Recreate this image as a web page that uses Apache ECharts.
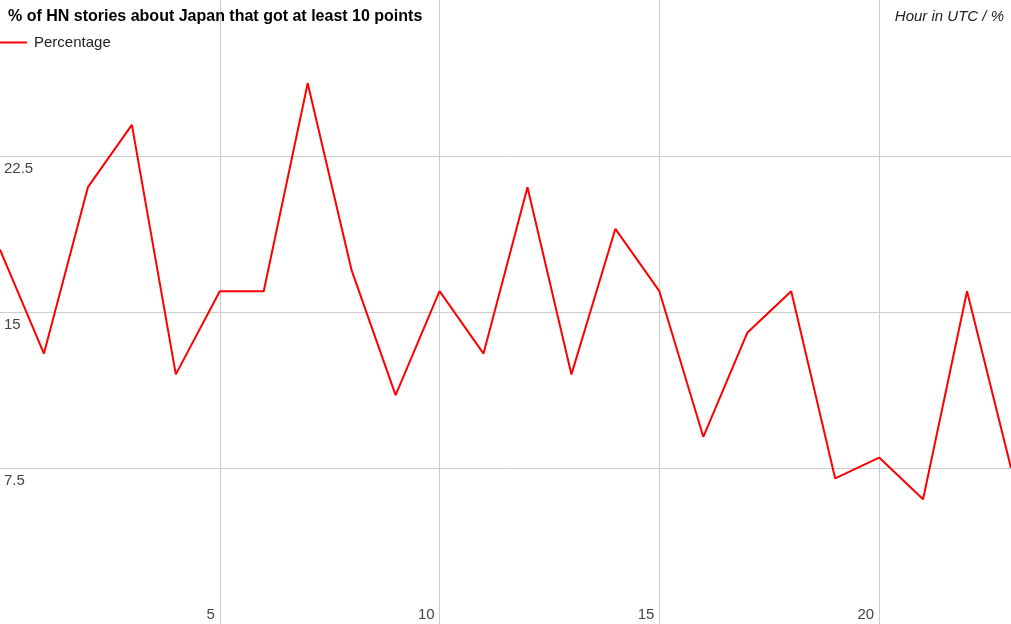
<!DOCTYPE html>
<html>
<head>
<meta charset="utf-8">
<script src="https://cdn.jsdelivr.net/npm/echarts@6/dist/echarts.min.js"></script>
<style>html,body{margin:0;padding:0;background:#fff}#c{width:1011px;height:624px}</style>
</head>
<body>
<div id="c"></div>
<script>
const hours = [0,1,2,3,4,5,6,7,8,9,10,11,12,13,14,15,16,17,18,19,20,21,22,23];
const percentage = [18,13,21,24,12,16,16,26,17,11,16,13,21,12,19,16,9,14,16,7,8,6,16,7.5];
const titleText = '% of HN stories about Japan that got at least 10 points';
const axisTitle = 'Hour in UTC / %';
const seriesName = 'Percentage';

const font = 'Arial, "Liberation Sans", sans-serif';
const chart = echarts.init(document.getElementById('c'));
chart.setOption({
  animation: false,
  textStyle: {fontFamily: font},
  title: [
    {text: titleText, left: 8, top: 9, padding: 0,
     textStyle: {fontFamily: font, fontSize: 16, fontWeight: 'bold', color: '#000'}},
    {text: axisTitle, right: 7, top: 9, padding: 0,
     textStyle: {fontFamily: font, fontSize: 15, fontStyle: 'italic', fontWeight: 'normal', color: '#222'}}
  ],
  legend: {
    left: 0, top: 35, padding: 0, itemWidth: 27, itemHeight: 2, itemGap: 5,
    icon: 'rect',
    textStyle: {fontFamily: font, fontSize: 15, color: '#222', padding: [0, 0, 0, 2]},
    itemStyle: {color: '#ff0000', borderWidth: 0},
    data: [seriesName]
  },
  grid: {left: -1, right: 0, top: -2, bottom: -2, containLabel: false},
  xAxis: {
    type: 'value', min: 0, max: 23, interval: 5,
    axisLine: {show: false}, axisTick: {show: false},
    splitLine: {show: true, showMinLine: false, showMaxLine: false, lineStyle: {color: '#cccccc', width: 1}},
    axisLabel: {inside: true, align: 'right', padding: [0, 5, 0, 0], margin: 2,
      showMinLabel: false, showMaxLabel: false,
      fontFamily: font, fontSize: 15, color: '#444'}
  },
  yAxis: {
    type: 'value', min: 0, max: 30, interval: 7.5,
    axisLine: {show: false}, axisTick: {show: false},
    splitLine: {show: true, showMinLine: false, showMaxLine: false, lineStyle: {color: '#cccccc', width: 1}},
    axisLabel: {inside: true, margin: 4, verticalAlign: 'top', padding: [5, 0, 0, 0],
      showMinLabel: false, showMaxLabel: false,
      fontFamily: font, fontSize: 15, color: '#444'}
  },
  series: [{
    name: seriesName, type: 'line', symbol: 'none',
    data: hours.map((h, i) => [h, percentage[i]]),
    lineStyle: {color: '#ff0000', width: 2},
    itemStyle: {color: '#ff0000'}
  }]
});
</script>
</body>
</html>
